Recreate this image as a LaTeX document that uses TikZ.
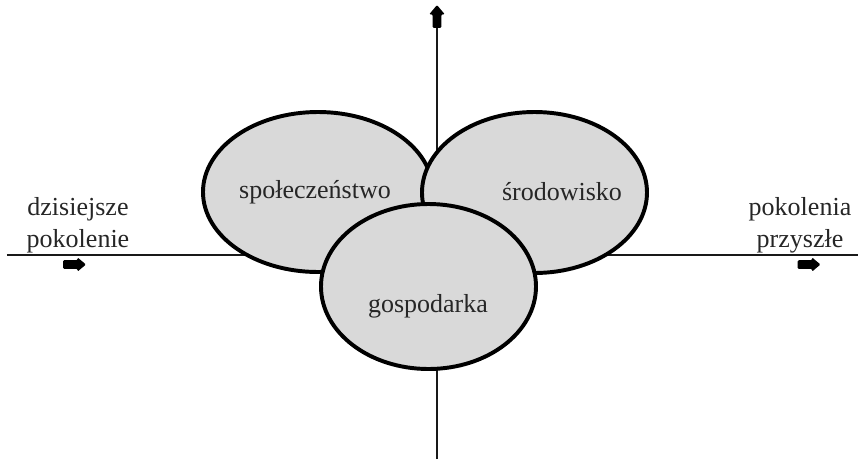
\documentclass[tikz,border=0pt]{standalone}
\usepackage{fontspec}
\setmainfont{Liberation Serif}
\usetikzlibrary{shapes.geometric,shapes.arrows}
\begin{document}
\begin{tikzpicture}[font=\fontsize{18.5}{22.5}\selectfont, text=black!85,
  sphere/.style={ellipse, draw=black, line width=2.8pt, fill=black!15, inner sep=0pt},
  axis/.style={line width=1.4pt, black!90},
  blockarrow/.style={single arrow, fill=black, inner xsep=0pt, inner ysep=0.1cm,
    single arrow head extend=0.07cm, single arrow tip angle=80, minimum height=0.57cm,
    rounded corners=0.8pt}]
\useasboundingbox (-10.925,-5.1) rectangle (10.525,6.375);
% osie
\node[blockarrow, rotate=90, single arrow head extend=0.09cm] (up) at (0,5.9) {};
\coordinate (bottom) at (0,-5.1);
\coordinate (west) at (-10.75,0);
\coordinate (east) at (10.525,0);
\draw[axis] (bottom)--(up.tail);
\draw[axis] (west)--(east);
\node[blockarrow] (left) at (-9.125,-0.2375) {};
\node[blockarrow] (right) at (9.2375,-0.2375) {};
\node[align=center] (today) at (-8.975,0.75) {dzisiejsze\\pokolenie};
\node[align=center] (future) at (9.075,0.75) {pokolenia\\przyszłe};
% trzy sfery
\node[sphere, minimum width=5.75cm, minimum height=4cm] (spol) at (-2.975,1.575) {};
\node[sphere, minimum width=5.625cm, minimum height=4.025cm] (srod) at (2.4375,1.5625) {};
\node[sphere, minimum width=5.375cm, minimum height=4.125cm] (gosp) at (-0.2125,-0.7875) {};
\node (spoltext) at (-3.05,1.575) {społeczeństwo};
\node (srodtext) at (3.125,1.575) {środowisko};
\node (gosptext) at (-0.225,-1.275) {gospodarka};
\end{tikzpicture}
\end{document}
